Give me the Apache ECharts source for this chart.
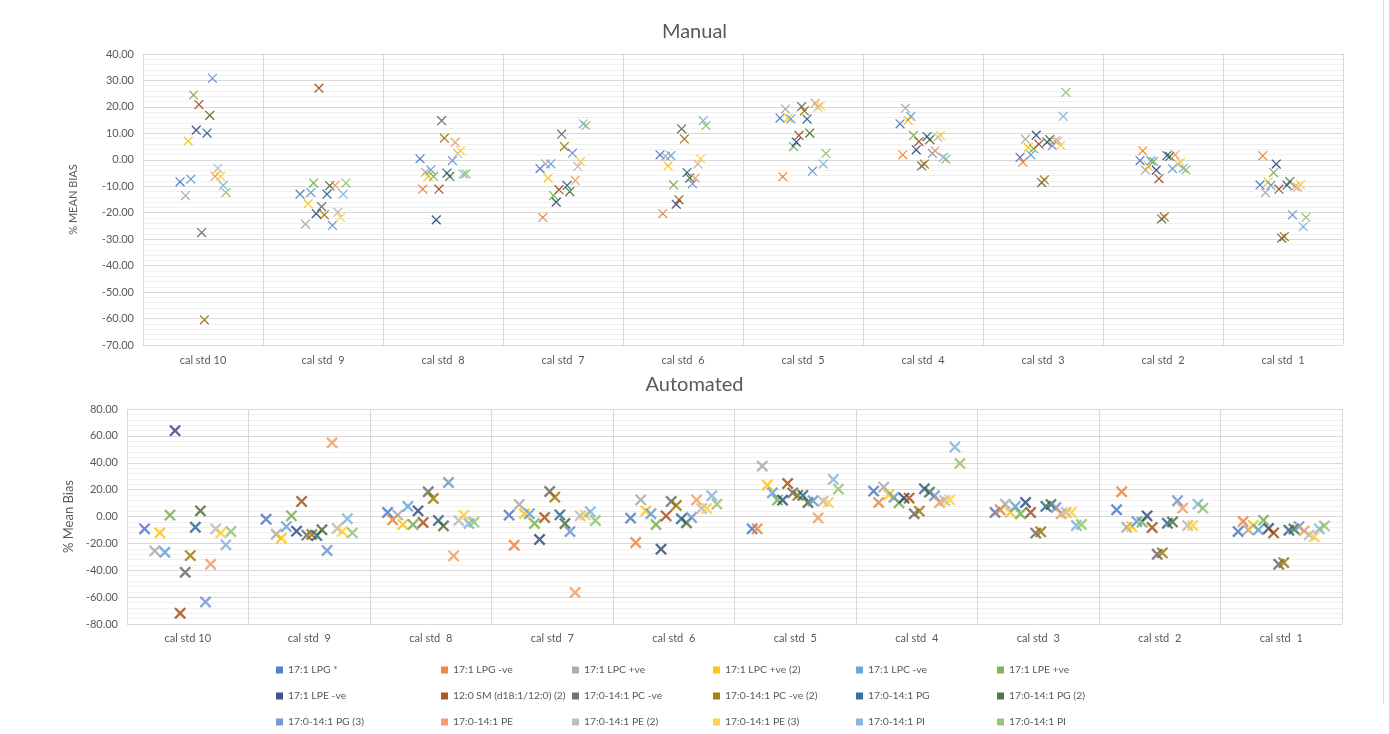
<!DOCTYPE html>
<html>
<head>
<meta charset="utf-8">
<script src="https://cdn.jsdelivr.net/npm/echarts@6/dist/echarts.min.js"></script>
<style>
html,body{margin:0;padding:0;background:#fff;}
#chart{width:1389px;height:734px;}
</style>
</head>
<body>
<div id="chart"></div>
<script>
// ---------- DATA ----------
const categories = ['cal std 10','cal std  9','cal std  8','cal std  7','cal std  6','cal std  5','cal std  4','cal std  3','cal std  2','cal std  1'];
const seriesNames = ['17:1 LPG *','17:1 LPG -ve','17:1 LPC +ve','17:1 LPC +ve (2)','17:1 LPC -ve','17:1 LPE +ve',
  '17:1 LPE -ve','12:0 SM (d18:1/12:0) (2)','17:0-14:1 PC -ve','17:0-14:1 PC -ve (2)','17:0-14:1 PG','17:0-14:1 PG (2)',
  '17:0-14:1 PG (3)','17:0-14:1 PE','17:0-14:1 PE (2)','17:0-14:1 PE (3)','17:0-14:1 PI','17:0-14:1 PI'];
const seriesColors = ['#4472C4','#ED7D31','#A5A5A5','#FFC000','#5B9BD5','#70AD47',
  '#264478','#9E480E','#636363','#997300','#255E91','#43682B',
  '#698ED0','#F1975A','#B7B7B7','#FFCD33','#7CAFDD','#8CC168'];
const manualTicks = [40,30,20,10,0,-10,-20,-30,-40,-50,-60,-70];
const autoTicks = [80,60,40,20,0,-20,-40,-60,-80];

// Manual (% MEAN BIAS), per series, cal std 10 -> cal std 1
const man01 = [-8.3,-13.0,0.4,-3.3,1.9,15.8,13.6,0.9,-0.3,-9.5];
const man02 = [null,null,-11.1,-21.8,-20.3,-6.4,1.9,-0.9,3.4,1.5];
const man03 = [-13.5,-24.3,-4.7,-1.5,1.3,19.2,19.5,7.8,-3.9,-12.4];
const man04 = [7.1,-16.6,-6.3,-6.9,-2.3,15.8,14.9,4.7,-2.3,-8.3];
const man05 = [-7.3,-12.4,-3.8,-1.5,1.6,15.5,16.4,1.9,-0.4,-9.7];
const man06 = [24.5,-8.8,-6.3,-13.5,-9.5,5.0,9.2,4.2,-0.6,-4.8];
const man07 = [11.2,-20.3,-22.7,-16.0,-16.8,6.7,3.8,9.3,-3.9,-1.6];
const man08 = [20.9,27.1,-11.1,-11.3,-15.1,9.2,6.9,5.9,-7.1,-11.1];
const man09 = [-27.5,-17.7,14.8,9.7,11.7,20.1,-2.3,-8.6,-22.3,-29.6];
const man10 = [-60.5,-20.8,8.2,5.0,7.9,18.5,-1.6,-7.6,-21.6,-29.0];
const man11 = [10.1,-13.0,-5.0,-9.7,-4.8,15.4,8.8,6.7,1.6,-9.6];
const man12 = [16.8,-9.8,-6.3,-12.0,-6.9,10.1,7.6,7.6,1.3,-8.2];
const man13 = [30.8,-24.8,-0.3,2.5,-9.0,-4.3,2.4,5.4,-3.3,-20.8];
const man14 = [-6.3,-9.7,6.6,-7.8,-6.9,21.4,3.4,7.2,1.9,-10.1];
const man15 = [-3.2,-19.8,2.4,-2.5,-1.6,19.9,8.6,7.2,-1.5,-10.3];
const man16 = [-6.3,-21.8,3.4,-0.6,0.4,20.4,9.2,5.5,-0.9,-9.5];
const man17 = [-9.7,-13.0,-5.4,13.6,14.8,-1.6,0.9,16.4,-3.2,-25.3];
const man18 = [-12.4,-8.8,-5.3,12.9,12.9,2.4,0.3,25.5,-3.8,-21.8];

// Automated (% Mean Bias), per series, cal std 10 -> cal std 1
const aut01 = [-9.2,-2.0,3.0,1.0,-1.2,-9.2,18.9,3.0,5.0,-11.2];
const aut02 = [null,null,-2.5,-21.4,-19.4,-9.2,10.4,5.0,18.4,-3.7];
const aut03 = [-25.6,-13.2,1.0,8.9,12.4,37.5,21.9,9.2,-8.0,-9.9];
const aut04 = [-12.2,-16.1,-6.0,2.0,4.2,23.4,16.1,3.0,-7.5,-6.7];
const aut05 = [-26.6,-7.5,7.5,2.0,2.0,17.6,14.2,7.5,-3.7,-9.9];
const aut06 = [1.0,0.5,-6.0,-5.2,-6.0,12.2,10.2,2.0,-4.2,-2.7];
const aut07 = [63.9,-10.9,4.2,-17.1,-24.3,12.2,13.7,10.4,0.5,-8.9];
const aut08 = [-72.0,11.2,-4.5,-0.7,0.5,24.6,13.7,3.0,-8.2,-12.2];
const aut09 = [-41.5,-13.9,18.4,18.6,11.2,17.6,2.0,-12.4,-28.1,-35.5];
const aut10 = [-29.1,-13.4,13.4,14.4,8.2,15.7,4.0,-11.4,-27.1,-34.3];
const aut11 = [-8.0,-14.2,-3.0,1.2,-1.7,15.7,20.6,7.5,-5.0,-10.2];
const aut12 = [4.2,-9.9,-7.0,-5.2,-4.7,10.4,18.1,8.9,-4.0,-9.2];
const aut13 = [-63.6,-25.3,25.3,-11.2,-0.7,11.7,15.4,6.7,11.7,-7.5];
const aut14 = [-35.5,54.9,-29.3,-56.6,12.4,-1.0,10.4,2.0,6.2,-10.7];
const aut15 = [-9.2,-8.9,-3.0,0.5,6.0,11.4,11.9,3.0,-6.7,-13.7];
const aut16 = [-12.2,-11.2,1.0,1.0,6.0,10.4,12.4,3.0,-6.7,-15.2];
const aut17 = [-21.1,-1.7,-5.2,3.5,15.4,27.6,51.7,-6.7,9.2,-9.2];
const aut18 = [-11.2,-12.2,-4.2,-3.0,9.2,20.4,39.5,-6.0,6.2,-7.0];

const manualValues = [man01,man02,man03,man04,man05,man06,man07,man08,man09,man10,man11,man12,man13,man14,man15,man16,man17,man18];
const autoValues = [aut01,aut02,aut03,aut04,aut05,aut06,aut07,aut08,aut09,aut10,aut11,aut12,aut13,aut14,aut15,aut16,aut17,aut18];

// ---------- CHART ----------
const FONT = 'Lato, "Liberation Sans", sans-serif';
const TXT = '#595959';
const topGrid = {left:143, top:54, width:1200, height:291};
const botGrid = {left:127, top:409, width:1215, height:215};

const thinX = 'path://M45,0H55V45H100V55H55V100H45V55H0V45H45Z';
const boldX = 'path://M42,0H58V42H100V58H58V100H42V58H0V42H42Z';

function buildPoints(vals, si, step) {
  const pts = [];
  vals.forEach((v, ci) => {
    if (v === null || v === undefined) return;
    pts.push([ci + 0.5 + (si - 8.5) * step, v]);
  });
  return pts;
}

const series = [];
manualValues.forEach((vals, si) => {
  series.push({
    type:'scatter', name: seriesNames[si], xAxisIndex:0, yAxisIndex:0,
    data: buildPoints(vals, si, 0.0225),
    symbol: thinX, symbolSize: 12.5, symbolRotate: 45,
    itemStyle:{color: seriesColors[si], opacity:0.9},
    emphasis:{disabled:true}, z: 3
  });
});
autoValues.forEach((vals, si) => {
  series.push({
    type:'scatter', name: seriesNames[si], xAxisIndex:2, yAxisIndex:1,
    data: buildPoints(vals, si, 0.0418),
    symbol: boldX, symbolSize: 14.5, symbolRotate: 45,
    itemStyle:{color: seriesColors[si]},
    emphasis:{disabled:true}, z: 3
  });
});

function valueX(gridIndex) {
  return {
    type:'value', gridIndex, min:0, max:10, interval:1,
    axisLabel:{show:false}, axisTick:{show:false},
    axisLine:{show:false},
    splitLine:{show:true, lineStyle:{color:'#D9D9D9', width:1}}
  };
}
function catX(gridIndex, margin) {
  return {
    type:'category', gridIndex, data: categories, boundaryGap:true, position:'bottom',
    axisTick:{show:false}, axisLine:{show:false}, splitLine:{show:false},
    axisLabel:{color:TXT, fontFamily:FONT, fontSize:11, margin, interval:0}
  };
}

const legends = [];
const legendCols = [271, 436, 567, 708, 851, 992];
const legendRows = [660, 686, 712];
seriesNames.forEach((n, si) => {
  legends.push({
    left: legendCols[si % 6], top: legendRows[Math.floor(si / 6)],
    data:[{name:n, icon:'rect', itemStyle:{color: seriesColors[si]}}],
    itemWidth:7, itemHeight:7, itemGap:6,
    textStyle:{color:TXT, fontFamily:FONT, fontSize:10.4},
    selectedMode:false
  });
});

const option = {
  animation:false,
  backgroundColor:'#fff',
  title:[
    {text:'Manual', left:'center', top:17, textStyle:{color:TXT, fontFamily:FONT, fontSize:20, fontWeight:'normal'}},
    {text:'Automated', left:'center', top:370, textStyle:{color:TXT, fontFamily:FONT, fontSize:20, fontWeight:'normal'}}
  ],
  legend: legends,
  grid:[topGrid, botGrid],
  xAxis:[valueX(0), catX(0, 10), valueX(1), catX(1, 9)],
  yAxis:[
    {type:'value', gridIndex:0, min:manualTicks[manualTicks.length-1], max:manualTicks[0], interval:10,
     name:'% MEAN BIAS', nameLocation:'middle', nameGap:64, nameRotate:90,
     nameTextStyle:{color:TXT, fontFamily:FONT, fontSize:11},
     axisLabel:{color:TXT, fontFamily:FONT, fontSize:11, margin:9, formatter:v=>v.toFixed(2)},
     axisLine:{show:false}, axisTick:{show:false},
     splitLine:{lineStyle:{color:'#D9D9D9'}},
     minorTick:{show:false, splitNumber:5},
     minorSplitLine:{show:true, lineStyle:{color:'#F0F0F0'}}},
    {type:'value', gridIndex:1, min:autoTicks[autoTicks.length-1], max:autoTicks[0], interval:20,
     name:'% Mean Bias', nameLocation:'middle', nameGap:44, nameRotate:90,
     nameTextStyle:{color:TXT, fontFamily:FONT, fontSize:13},
     axisLabel:{color:TXT, fontFamily:FONT, fontSize:11, margin:9, formatter:v=>v.toFixed(2)},
     axisLine:{show:false}, axisTick:{show:false},
     splitLine:{lineStyle:{color:'#D9D9D9'}},
     minorTick:{show:false, splitNumber:5},
     minorSplitLine:{show:true, lineStyle:{color:'#F0F0F0'}}}
  ],
  graphic:[
    {type:'line', shape:{x1:1383.5, y1:0, x2:1383.5, y2:704}, style:{stroke:'#D9D9D9', lineWidth:1}, silent:true}
  ],
  series
};

const chart = echarts.init(document.getElementById('chart'), null, {renderer:'canvas'});
chart.setOption(option);
</script>
</body>
</html>
